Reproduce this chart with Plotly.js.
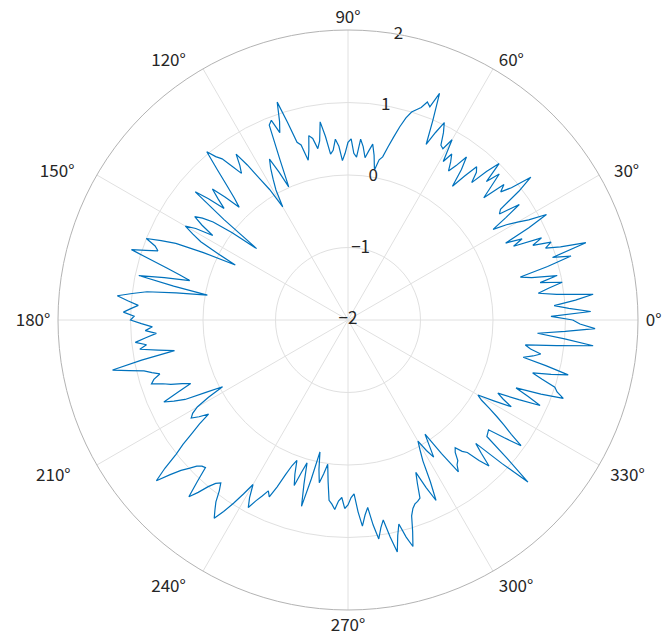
<!DOCTYPE html>
<html>
<head>
<meta charset="utf-8">
<script src="https://cdn.plot.ly/plotly-3.0.1.min.js"></script>
<style>
  html, body { margin: 0; padding: 0; background: #fff; }
  #chart { width: 665px; height: 638px; }
</style>
</head>
<body>
<div id="chart"></div>
<script>
// radius values, one per degree from 0 to 359
const rhoValues = [
  1.10, 0.80, 1.35, 1.05, 0.85, 1.15, 1.40, 0.90, 0.65, 0.80,
  1.00, 0.70, 0.95, 0.60, 0.45, 0.85, 1.20, 0.95, 1.45, 1.10,
  0.90, 1.00, 0.75, 0.90, 0.50, 0.65, 0.42, 0.80, 1.10, 0.85,
  0.70, 0.55, 0.36, 0.60, 0.85, 0.55, 0.60, 0.95, 1.20, 0.90,
  0.75, 0.85, 0.52, 0.70, 0.90, 0.70, 1.00, 0.80, 0.55, 0.70,
  0.76, 0.55, 0.34, 0.60, 0.78, 0.60, 0.48, 0.60, 0.70, 0.55,
  0.87, 0.70, 0.73, 0.90, 1.03, 0.85, 0.65, 1.00, 1.37, 1.15,
  1.20, 1.10, 1.05, 1.00, 0.90, 0.76, 0.60, 0.45, 0.30, 0.25,
  0.10, 0.30, 0.45, 0.35, 0.25, 0.40, 0.50, 0.25, 0.30, 0.50,
  0.45, 0.30, 0.20, 0.40, 0.50, 0.35, 0.30, 0.55, 0.76, 0.50,
  0.40, 0.55, 0.60, 0.40, 0.27, 0.50, 0.55, 0.85, 1.16, 0.90,
  0.75, 0.95, 0.90, 0.40, 0.01, 0.25, 0.47, 0.35, 0.20, 0.05,
  -0.20, 0.10, 0.30, 0.55, 0.76, 0.60, 0.50, 0.65, 0.82, 0.90,
  1.03, 0.75, 0.50, 0.30, 0.16, 0.40, 0.60, 0.45, 0.30, 0.55,
  0.75, 0.20, -0.40, 0.00, 0.30, 0.45, 0.55, 0.40, 0.20, 0.45,
  0.59, 0.45, 0.30, 0.00, -0.27, 0.20, 0.60, 0.80, 1.00, 0.85,
  0.79, 0.95, 1.14, 0.85, 0.60, 0.40, 0.25, 0.60, 0.95, 0.45,
  -0.03, 0.40, 0.80, 1.00, 1.20, 1.05, 0.90, 1.00, 1.10, 0.95,
  1.00, 0.85, 0.70, 0.80, 0.65, 0.80, 0.95, 0.80, 0.90, 0.65,
  0.43, 0.90, 1.32, 1.10, 0.90, 0.80, 0.70, 0.80, 0.85, 0.70,
  0.60, 0.45, 0.34, 0.55, 0.78, 0.65, 0.50, 0.20, -0.04, 0.20,
  0.40, 0.50, 0.55, 0.45, 0.32, 0.50, 0.66, 0.85, 1.01, 1.25,
  1.45, 1.25, 1.10, 1.00, 0.90, 0.85, 0.83, 1.05, 1.28, 1.15,
  1.00, 0.90, 0.85, 0.95, 1.10, 1.20, 1.30, 1.15, 0.98, 0.80,
  0.62, 0.80, 0.93, 0.80, 0.70, 0.60, 0.67, 0.50, 0.30, 0.15,
  0.06, 0.25, 0.40, 0.20, 0.05, 0.35, 0.65, 0.25, -0.14, 0.10,
  0.28, 0.15, 0.01, 0.25, 0.50, 0.55, 0.62, 0.50, 0.45, 0.60,
  0.55, 0.45, 0.40, 0.65, 0.85, 0.70, 0.60, 0.85, 1.05, 0.90,
  0.80, 1.05, 1.27, 1.05, 0.90, 1.10, 1.25, 1.05, 0.84, 0.75,
  0.70, 0.68, 0.65, 0.45, 0.30, 0.55, 0.77, 0.50, 0.20, 0.05,
  -0.07, 0.10, 0.23, 0.05, -0.10, 0.25, 0.59, 0.50, 0.46, 0.35,
  0.30, 0.40, 0.46, 0.65, 0.80, 0.60, 0.45, 0.90, 1.34, 0.90,
  0.50, 0.48, 0.46, 0.70, 0.95, 0.75, 0.60, 0.45, 0.30, 0.15,
  0.07, 0.30, 0.55, 0.40, 0.30, 0.60, 0.90, 0.70, 0.50, 0.85,
  1.16, 1.05, 1.00, 0.80, 0.65, 0.90, 1.13, 0.80, 0.47, 0.60,
  0.70, 0.55, 0.47, 0.90, 1.40, 1.00, 0.62, 1.00, 1.41, 1.20
];
const thetaDeg = rhoValues.map((v, i) => i);

const radialTicks = [-2, -1, 0, 1, 2];
const radialLabels = ['\u22122', '\u22121', '0', '1', '2'];
const radialLabelAngle = 80;
const angleTicks = [0, 30, 60, 90, 120, 150, 180, 210, 240, 270, 300, 330];
const angleLabels = ['0°', '30°', '60°', '90°', '120°', '150°',
  '180°', '210°', '240°', '270°', '300°', '330°'];

// MATLAB sets its angle labels a bit further off the rim than plotly does;
// pad them with no-break spaces on the side away from the circle
const nb = n => '\u00a0'.repeat(n);
const labelPad = [1, 3, 1, 0, 4, 5, 1, 6, 4, 0, 1, 2];
const angleText = angleLabels.map((t, i) => {
  const c = Math.cos(angleTicks[i] * Math.PI / 180);
  if (c > 0.01) return nb(labelPad[i]) + t;
  if (c < -0.01) return t + nb(labelPad[i]);
  return t;
});

const labelFont = { family: 'Noto Sans CJK JP, sans-serif', size: 17, color: '#262626' };

// data line, closed back to the first point
const dataTrace = {
  type: 'scatterpolar',
  mode: 'lines',
  theta: thetaDeg.concat([360]),
  r: rhoValues.concat([rhoValues[0]]),
  line: { color: '#0072BD', width: 1.2 },
  hoverinfo: 'skip'
};

// radial tick labels sit on the 80 degree spoke, like MATLAB
const radialLabelTrace = {
  type: 'scatterpolar',
  mode: 'text',
  theta: radialTicks.map(() => radialLabelAngle),
  r: radialTicks,
  text: radialLabels,
  textposition: 'middle center',
  textfont: labelFont,
  hoverinfo: 'skip'
};

const layout = {
  width: 665,
  height: 638,
  margin: { l: 0, r: 0, t: 0, b: 0 },
  paper_bgcolor: '#fff',
  showlegend: false,
  polar: {
    domain: { x: [58 / 665, 638 / 665], y: [28 / 638, 608 / 638] },
    bgcolor: '#fff',
    radialaxis: {
      range: [-2, 2],
      tickvals: radialTicks,
      showticklabels: false,
      ticks: '',
      showline: false,
      gridcolor: '#e0e0e0',
      gridwidth: 1
    },
    angularaxis: {
      direction: 'counterclockwise',
      rotation: 0,
      tickvals: angleTicks,
      ticktext: angleText,
      ticks: '',
      showline: true,
      linecolor: '#b3b3b3',
      linewidth: 1,
      gridcolor: '#e0e0e0',
      gridwidth: 1,
      tickfont: labelFont
    }
  }
};

Plotly.newPlot('chart', [dataTrace, radialLabelTrace], layout, { staticPlot: true });
</script>
</body>
</html>
